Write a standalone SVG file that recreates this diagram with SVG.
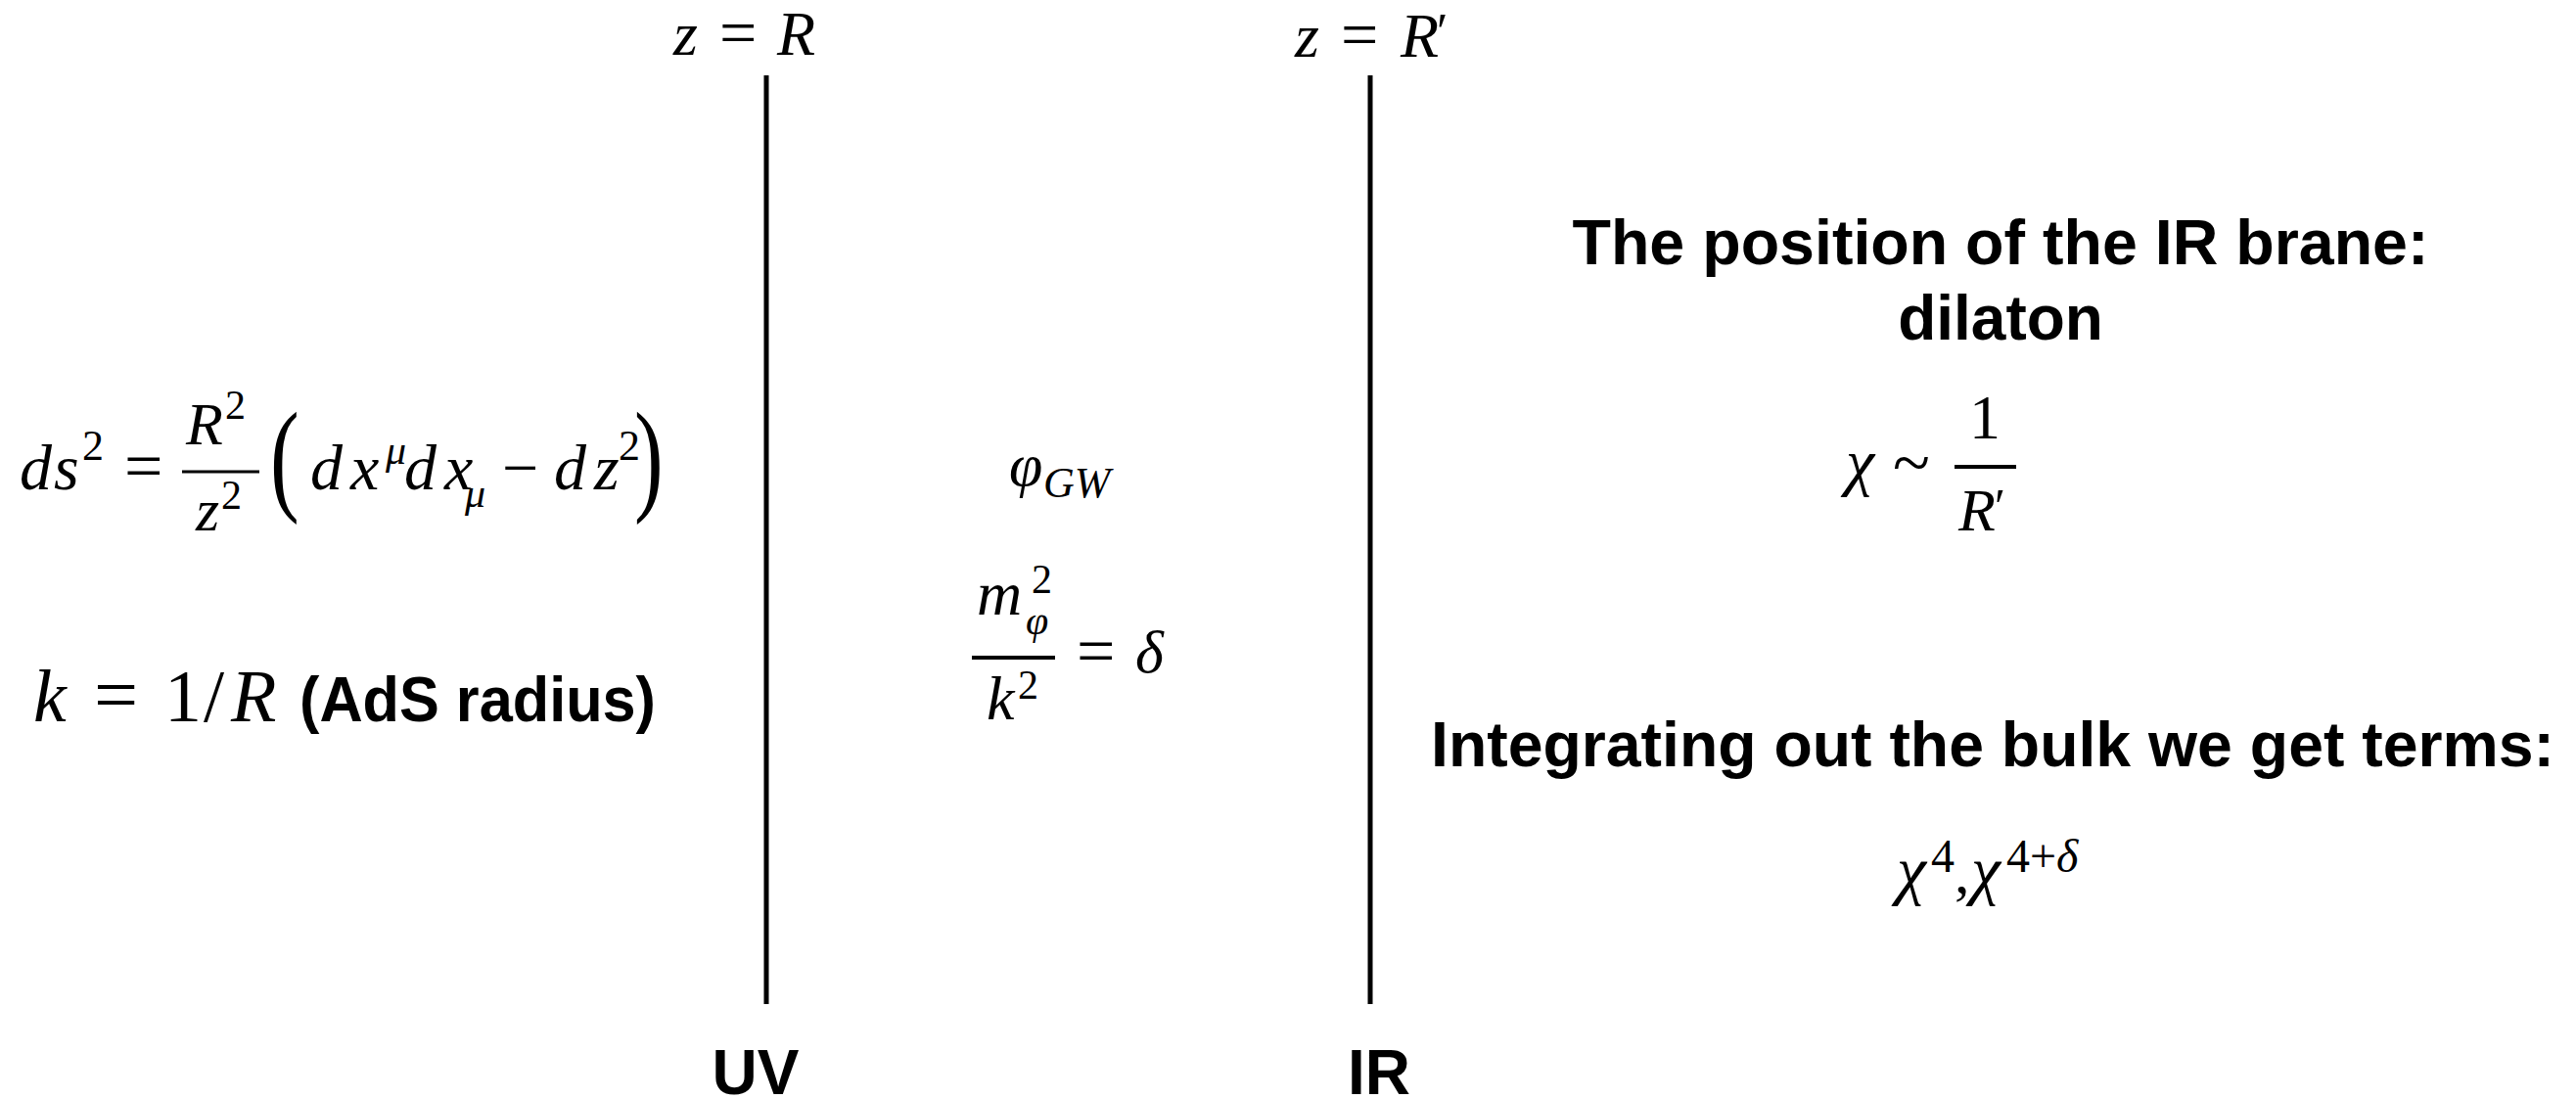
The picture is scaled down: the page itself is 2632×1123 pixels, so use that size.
<svg xmlns="http://www.w3.org/2000/svg" width="2632" height="1123" viewBox="0 0 2632 1123">
<style>
.m{font-family:"Liberation Serif","Times New Roman",serif;font-style:italic;fill:#000}
.r{font-family:"Liberation Serif","Times New Roman",serif;font-style:normal;fill:#000}
.b{font-family:"Liberation Sans",Arial,sans-serif;font-weight:bold;fill:#000}
.brane{stroke:#000;stroke-width:5;fill:none}
.bar{stroke:#000;fill:none}
</style>
<rect width="2632" height="1123" fill="#fff"/>
<g id="branes">
<line class="brane" x1="783" y1="77" x2="783" y2="1026"/>
<line class="brane" x1="1400" y1="77" x2="1400" y2="1026"/>
</g>
<g id="uv-label-top">
<text class="m" x="688" y="56" font-size="64">z</text>
<text class="r" x="735" y="56" font-size="68">=</text>
<text class="m" x="794" y="56" font-size="64">R</text>
</g>
<g id="ir-label-top">
<text class="m" x="1323" y="58" font-size="64">z</text>
<text class="r" x="1370" y="58" font-size="68">=</text>
<text class="m" x="1431" y="58" font-size="64">R</text>
<text class="r" x="1468" y="50" font-size="52">′</text>
</g>
<g id="uv-label"><text class="b" x="772" y="1118" font-size="64" text-anchor="middle">UV</text></g>
<g id="ir-label"><text class="b" x="1409" y="1118" font-size="64" text-anchor="middle">IR</text></g>
<g id="metric">
<text class="m" x="20" y="500" font-size="66">d</text>
<text class="m" x="55" y="500" font-size="66">s</text>
<text class="r" x="84" y="470" font-size="44">2</text>
<text class="r" x="127" y="500" font-size="70">=</text>
<text class="m" x="190" y="454" font-size="62">R</text>
<text class="r" x="230" y="428" font-size="42">2</text>
<line class="bar" x1="186" y1="482" x2="265" y2="482" stroke-width="3"/>
<text class="m" x="200" y="542" font-size="62">z</text>
<text class="r" x="226" y="520" font-size="42">2</text>
<text class="r" transform="translate(276,509) scale(1.35,1.93)" font-size="66">(</text>
<text class="m" x="317" y="500" font-size="66">d</text>
<text class="m" x="358" y="500" font-size="66">x</text>
<text class="m" x="394" y="474" font-size="42">μ</text>
<text class="m" x="413" y="500" font-size="66">d</text>
<text class="m" x="454" y="500" font-size="66">x</text>
<text class="m" x="475" y="518" font-size="42">μ</text>
<text class="r" x="513" y="500" font-size="66">−</text>
<text class="m" x="566" y="500" font-size="66">d</text>
<text class="m" x="607" y="500" font-size="66">z</text>
<text class="r" x="632" y="470" font-size="44">2</text>
<text class="r" transform="translate(648,509) scale(1.35,1.93)" font-size="66">)</text>
</g>
<g id="k-def">
<text class="m" x="34" y="737" font-size="76">k</text>
<text class="r" x="96" y="737" font-size="80">=</text>
<text class="r" x="168" y="737" font-size="76">1</text>
<text class="r" x="208" y="737" font-size="76">/</text>
<text class="m" x="236" y="737" font-size="76">R</text>
<text class="b" x="306" y="737" font-size="64" textLength="364" lengthAdjust="spacingAndGlyphs">(AdS radius)</text>
</g>
<g id="phi-gw">
<text class="m" x="1031" y="496" font-size="62">φ</text>
<text class="m" x="1066" y="508" font-size="44">GW</text>
</g>
<g id="mass-ratio">
<text class="m" x="998" y="628" font-size="64">m</text>
<text class="r" x="1054" y="606" font-size="42">2</text>
<text class="m" x="1048" y="648" font-size="42">φ</text>
<line class="bar" x1="993" y1="672" x2="1078" y2="672" stroke-width="4"/>
<text class="m" x="1008" y="735" font-size="64">k</text>
<text class="r" x="1040" y="714" font-size="42">2</text>
<text class="r" x="1100" y="689" font-size="70">=</text>
<text class="m" x="1160" y="687" font-size="62">δ</text>
</g>
<g id="dilaton-title">
<text class="b" x="2044" y="270" font-size="64" text-anchor="middle" textLength="875" lengthAdjust="spacingAndGlyphs">The position of the IR brane:</text>
<text class="b" x="2044" y="347" font-size="64" text-anchor="middle">dilaton</text>
</g>
<g id="dilaton-eq">
<text class="m" x="1886" y="494" font-size="66">χ</text>
<text class="r" x="1934" y="496" font-size="70">~</text>
<text class="r" x="2012" y="448" font-size="64">1</text>
<line class="bar" x1="1997" y1="477" x2="2060" y2="477" stroke-width="4"/>
<text class="m" x="2001" y="542" font-size="62">R</text>
<text class="r" x="2038" y="534" font-size="50">′</text>
</g>
<g id="bulk-title">
<text class="b" x="2036" y="783" font-size="64" text-anchor="middle" textLength="1148" lengthAdjust="spacingAndGlyphs">Integrating out the bulk we get terms:</text>
</g>
<g id="bulk-terms">
<text class="m" x="1938" y="912" font-size="68">χ</text>
<text class="r" x="1973" y="891" font-size="48">4</text>
<text class="r" x="1997" y="912" font-size="62">,</text>
<text class="m" x="2014" y="912" font-size="68">χ</text>
<text class="r" x="2050" y="891" font-size="48">4+<tspan class="m">δ</tspan></text>
</g>
</svg>
